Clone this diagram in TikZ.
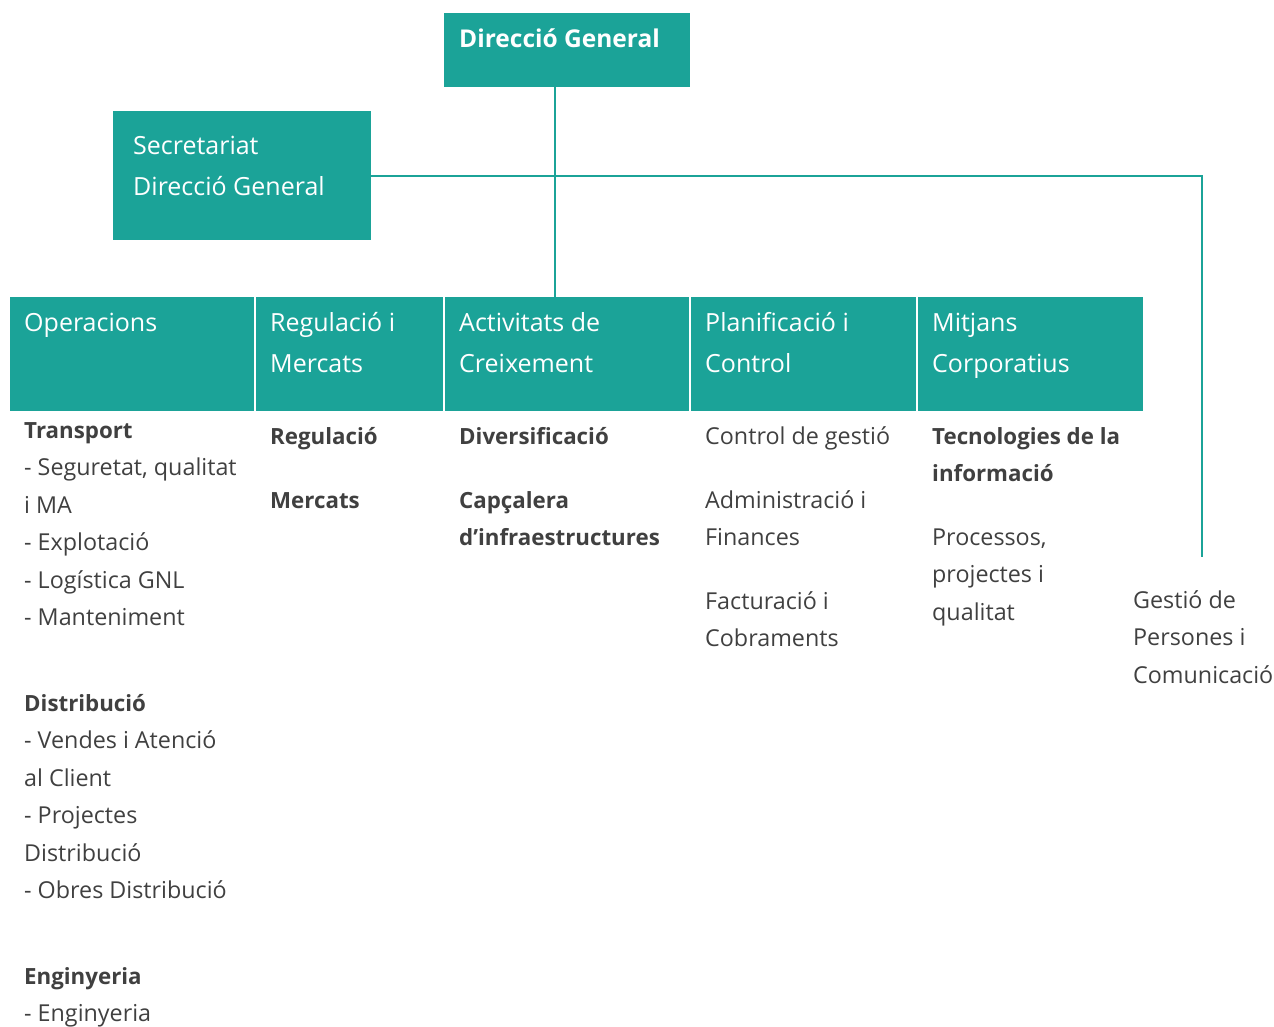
\documentclass[tikz,border=0pt]{standalone}
\usepackage{fontspec}
\setmainfont{Open Sans}
\definecolor{tealbox}{HTML}{1BA398}
\definecolor{txtgray}{HTML}{404040}
\newcommand{\stk}[1]{\vtop{\let\\\cr\halign{##\hfil\cr#1\crcr}}}
\begin{document}
\begin{tikzpicture}[x=1pt,y=-1pt,
  box/.style={fill=tealbox, draw=none, anchor=north west, inner sep=0pt, outer sep=0pt},
  btxt/.style={anchor=base west, text=white, font=\fontsize{25}{41}\selectfont, inner sep=0pt},
  btxtb/.style={btxt, font=\fontsize{24.5}{41}\selectfont\bfseries},
  body/.style={anchor=base west, text=txtgray, font=\fontsize{23.3}{37.5}\selectfont, inner sep=0pt},
  bodyb/.style={body, font=\fontsize{22.3}{37.5}\selectfont\bfseries},
  conn/.style={draw=tealbox, line width=2pt}]
\useasboundingbox (0,0) rectangle (1274,1026);
% boxes
\node[box, minimum width=246, minimum height=74] (dg) at (444,13) {};
\node[box, minimum width=258, minimum height=129] (sec) at (113,111) {};
\node[box, minimum width=244, minimum height=114] (op) at (10,297) {};
\node[box, minimum width=187, minimum height=114] (reg) at (256,297) {};
\node[box, minimum width=244, minimum height=114] (act) at (445,297) {};
\node[box, minimum width=225, minimum height=114] (plan) at (691,297) {};
\node[box, minimum width=225, minimum height=114] (mit) at (918,297) {};
% box texts
\node[btxtb] (dgt) at (459,47) {Direcció General};
\node[btxt] (sect) at (133,154) {\stk{Secretariat\\Direcció General}};
\node[btxt] (opt) at (24,331) {Operacions};
\node[btxt] (regt) at (270,331) {\stk{Regulació i\\Mercats}};
\node[btxt] (actt) at (459,331) {\stk{Activitats de\\Creixement}};
\node[btxt] (plant) at (705,331) {\stk{Planificació i\\Control}};
\node[btxt] (mitt) at (932,331) {\stk{Mitjans\\Corporatius}};
% connectors
\coordinate (lx) at (555,0);
\coordinate (gp) at (1202,557);
\draw[conn] (dg.south -| lx) -- (act.north -| lx);
\draw[conn] (sec.east) -| (gp);
% column texts
\node[body] (tr) at (24,438) {\stk{{\fontsize{22.3}{37.5}\selectfont\bfseries Transport}\\- Seguretat, qualitat\\i MA\\- Explotació\\- Logística GNL\\- Manteniment}};
\node[body] (di) at (24,711) {\stk{{\fontsize{22.3}{37.5}\selectfont\bfseries Distribució}\\- Vendes i Atenció\\al Client\\- Projectes\\Distribució\\- Obres Distribució}};
\node[body] (en) at (24,984) {\stk{{\fontsize{22.3}{37.5}\selectfont\bfseries Enginyeria}\\- Enginyeria}};
\node[bodyb] (rg) at (270,444) {Regulació};
\node[bodyb] (me) at (270,508) {Mercats};
\node[bodyb] (dv) at (459,444) {Diversificació};
\node[bodyb] (cp) at (459,508) {\stk{Capçalera\\d’infraestructures}};
\node[body] (cg) at (705,444) {Control de gestió};
\node[body] (af) at (705,508) {\stk{Administració i\\Finances}};
\node[body] (fc) at (705,609) {\stk{Facturació i\\Cobraments}};
\node[bodyb] (ti) at (932,444) {\stk{Tecnologies de la\\informació}};
\node[body] (pp) at (932,545) {\stk{Processos,\\projectes i\\qualitat}};
\node[body] (gpc) at (1133,608) {\stk{Gestió de\\Persones i\\Comunicació}};
\end{tikzpicture}
\end{document}
